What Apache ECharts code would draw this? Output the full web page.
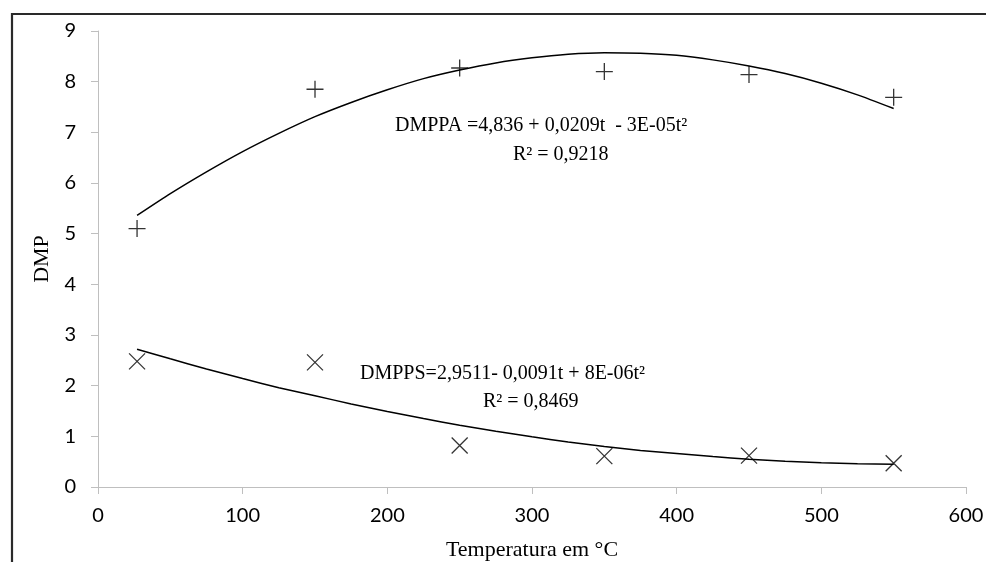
<!DOCTYPE html>
<html>
<head>
<meta charset="utf-8">
<script src="https://cdn.jsdelivr.net/npm/echarts@6/dist/echarts.min.js"></script>
<style>
  html, body { margin: 0; padding: 0; background: #fff; }
  #main { width: 986px; height: 562px; }
</style>
</head>
<body>
<div id="main"></div>
<script>
// measured points
const tempPoints = [27, 150, 250, 350, 450, 550];
const dmppaValues = [5.10, 7.85, 8.27, 8.20, 8.14, 7.69];
const dmppsValues = [2.48, 2.46, 0.82, 0.61, 0.62, 0.47];

// trend curves
const trendTemps = [27, 50, 75, 100, 125, 150, 175, 200, 225, 250, 275, 300,
                    325, 350, 375, 400, 425, 450, 475, 500, 525, 550];
const dmppaTrend = [5.36, 5.79, 6.22, 6.62, 6.98, 7.31, 7.59, 7.84, 8.06, 8.23, 8.37, 8.47,
                    8.54, 8.57, 8.56, 8.52, 8.43, 8.31, 8.16, 7.97, 7.74, 7.47];
const dmppsTrend = [2.72, 2.53, 2.33, 2.14, 1.96, 1.80, 1.64, 1.49, 1.35, 1.22, 1.10, 0.99,
                    0.89, 0.80, 0.72, 0.66, 0.60, 0.55, 0.51, 0.48, 0.46, 0.45];

const xTicks = { min: 0, max: 600, interval: 100 };
const yTicks = { min: 0, max: 9, interval: 1 };

const eqPA = 'DMPPA =4,836 + 0,0209t  - 3E-05t\u00b2';
const r2PA = 'R\u00b2 = 0,9218';
const eqPS = 'DMPPS=2,9511- 0,0091t + 8E-06t\u00b2';
const r2PS = 'R\u00b2 = 0,8469';

function pairs(xs, ys) {
    return xs.map(function (x, i) { return [x, ys[i]]; });
}

const dom = document.getElementById('main');
const myChart = echarts.init(dom);

const axisGray = '#bfbfbf';
const tickFont = { color: '#000', fontSize: 20, fontFamily: 'Lato, "Open Sans", sans-serif' };
const serif = '"Liberation Serif", "Times New Roman", serif';

const plusPath = 'path://M0,8L16,8M8,0L8,16';
const crossPath = 'path://M0,0L16,16M16,0L0,16';

const option = {
    animation: false,
    backgroundColor: '#fff',
    grid: { left: 98, right: 20, top: 31, bottom: 75, outerBoundsMode: 'none', containLabel: false },
    xAxis: {
        type: 'value',
        min: xTicks.min, max: xTicks.max, interval: xTicks.interval,
        name: 'Temperatura em \u00b0C',
        nameLocation: 'middle',
        nameGap: 52,
        nameTextStyle: { color: '#000', fontSize: 22, fontFamily: serif },
        axisLine: { show: true, lineStyle: { color: axisGray, width: 1 } },
        axisTick: { show: true, length: 7, lineStyle: { color: axisGray } },
        axisLabel: Object.assign({ margin: 19 }, tickFont),
        splitLine: { show: false }
    },
    yAxis: {
        type: 'value',
        min: yTicks.min, max: yTicks.max, interval: yTicks.interval,
        name: 'DMP',
        nameLocation: 'middle',
        nameGap: 43,
        nameTextStyle: { color: '#000', fontSize: 22, fontFamily: serif },
        axisLine: { show: true, lineStyle: { color: axisGray, width: 1 } },
        axisTick: { show: true, length: 7, lineStyle: { color: axisGray } },
        axisLabel: Object.assign({ margin: 22 }, tickFont),
        splitLine: { show: false }
    },
    series: [
        {
            name: 'DMPPA trend',
            type: 'line',
            data: pairs(trendTemps, dmppaTrend),
            smooth: 0.2,
            showSymbol: false,
            lineStyle: { color: '#000', width: 1.5 },
            z: 2
        },
        {
            name: 'DMPPS trend',
            type: 'line',
            data: pairs(trendTemps, dmppsTrend),
            smooth: 0.2,
            showSymbol: false,
            lineStyle: { color: '#000', width: 1.5 },
            z: 2
        },
        {
            name: 'DMPPA',
            type: 'scatter',
            data: pairs(tempPoints, dmppaValues),
            symbol: plusPath,
            symbolSize: 17,
            itemStyle: { color: 'none', borderColor: '#000', borderWidth: 1.3 },
            z: 3
        },
        {
            name: 'DMPPS',
            type: 'scatter',
            data: pairs(tempPoints, dmppsValues),
            symbol: crossPath,
            symbolSize: 16,
            itemStyle: { color: 'none', borderColor: '#000', borderWidth: 1.3 },
            z: 3
        }
    ],
    graphic: [
        {
            type: 'rect',
            shape: { x: 12, y: 14, width: 1000, height: 600 },
            style: { fill: 'none', stroke: '#2a2a2a', lineWidth: 2.2 },
            silent: true
        },
        {
            type: 'text', x: 395, y: 126,
            style: { text: eqPA, fill: '#000', fontSize: 20, fontFamily: serif, verticalAlign: 'middle' }
        },
        {
            type: 'text', x: 513, y: 155,
            style: { text: r2PA, fill: '#000', fontSize: 20, fontFamily: serif, verticalAlign: 'middle' }
        },
        {
            type: 'text', x: 360, y: 374,
            style: { text: eqPS, fill: '#000', fontSize: 20, fontFamily: serif, verticalAlign: 'middle' }
        },
        {
            type: 'text', x: 483, y: 402,
            style: { text: r2PS, fill: '#000', fontSize: 20, fontFamily: serif, verticalAlign: 'middle' }
        }
    ]
};

myChart.setOption(option, true);
window.addEventListener('resize', function () { myChart.resize(); });
</script>
</body>
</html>
